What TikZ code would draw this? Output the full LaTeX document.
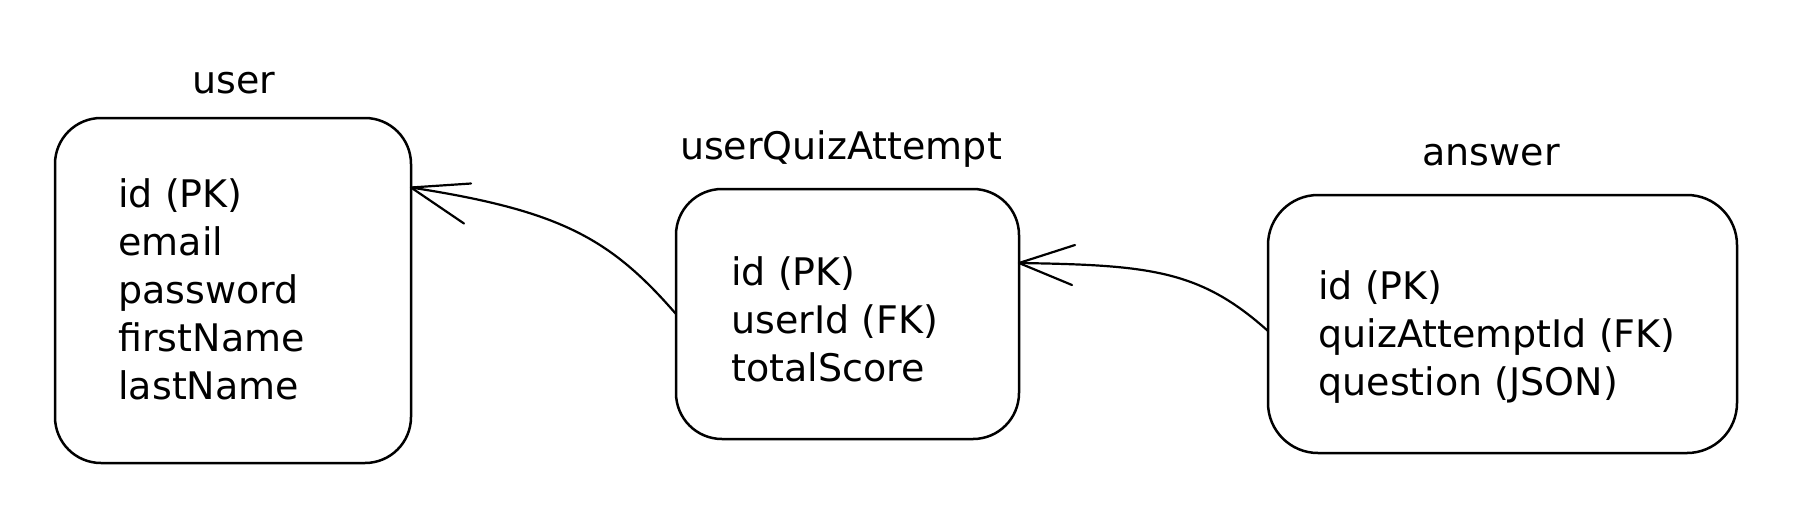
\documentclass[tikz,border=0pt]{standalone}
\usepackage{fontspec}
\setmainfont{DejaVu Sans}
\usetikzlibrary{calc}
\begin{document}
\begin{tikzpicture}[x=0.5pt,y=-0.5pt,
  entity/.style={draw=black, line width=1.25pt, rounded corners=23pt, inner sep=0pt, outer sep=0pt},
  etitle/.style={font=\fontsize{19}{24}\selectfont, inner sep=0pt},
  fields/.style={font=\fontsize{19}{24}\selectfont, align=left, anchor=west, inner sep=0pt},
  rel/.style={draw=black, line width=1.1pt, line cap=round, line join=round},
]
\useasboundingbox (0,0) rectangle (1800,510);

% entities
\node[entity, minimum width=178pt, minimum height=172.5pt] (user) at (233,290.5) {};
\node[entity, minimum width=171.5pt, minimum height=125pt] (uqa) at (847.5,314) {};
\node[entity, minimum width=234.5pt, minimum height=129pt, rounded corners=25pt] (answer) at (1502.5,324) {};

% titles
\node[etitle] (userT) at (234,83) {user};
\node[etitle] (uqaT) at (841,149) {userQuizAttempt};
\node[etitle] (answerT) at (1491,155) {answer};

% fields
\node[fields] (userF) at (118,289) {id (PK)\\email\\password\\firstName\\lastName};
\node[fields] (uqaF) at (731,319) {id (PK)\\userId (FK)\\totalScore};
\node[fields] (answerF) at (1318,337) {id (PK)\\quizAttemptId (FK)\\question (JSON)};

% connection points
\coordinate (uEnd) at ($(user.east)+(0,-103)$);
\coordinate (qEnd) at ($(uqa.east)+(0,-51)$);
\coordinate (aStart) at ($(answer.west)+(0,7)$);

% userQuizAttempt -> user
\draw[rel] (uqa.west) .. controls +(-66,-76) and +(149,23) .. (uEnd);
\draw[rel] (uEnd) -- +(60,-4);
\draw[rel] (uEnd) -- +(53,36);

% answer -> userQuizAttempt
\draw[rel] (aStart) .. controls +(-68,-61) and +(131,2) .. (qEnd);
\draw[rel] (qEnd) -- +(56,-18);
\draw[rel] (qEnd) -- +(53,22);
\end{tikzpicture}
\end{document}
